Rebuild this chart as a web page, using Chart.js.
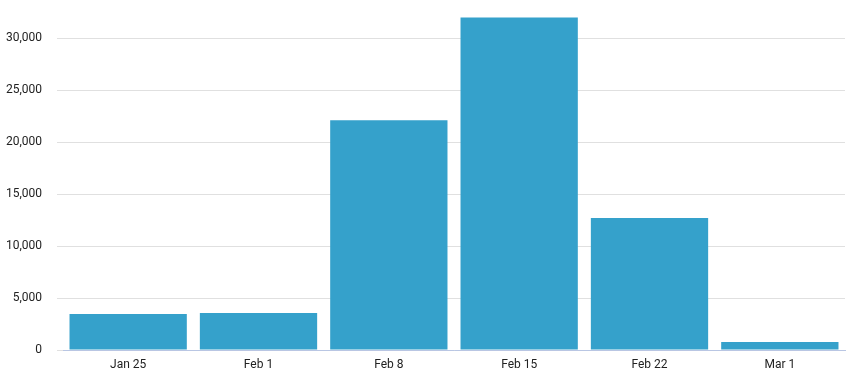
<!DOCTYPE html>
<html>
<head>
<meta charset="utf-8">
<script src="https://cdn.jsdelivr.net/npm/chart.js@4"></script>
<style>
  html, body { margin: 0; padding: 0; background: #fff; }
  .wrap { width: 851px; height: 377px; }
</style>
</head>
<body>
<div class="wrap"><canvas id="chart"></canvas></div>
<script>
var labels = ["Jan 25", "Feb 1", "Feb 8", "Feb 15", "Feb 22", "Mar 1"];
var values = [3460, 3560, 22100, 32000, 12700, 770];
var yTicks = [0, 5000, 10000, 15000, 20000, 25000, 30000];

var ctx = document.getElementById("chart").getContext("2d");

var data = {
  labels: labels,
  datasets: [
    {
      backgroundColor: "#35a1cb",
      borderWidth: 0,
      data: values,
      categoryPercentage: 0.9,
      barPercentage: 1,
    },
  ],
};

var options = {
  responsive: true,
  maintainAspectRatio: false,
  animation: false,
  layout: { padding: { top: 7, right: 6, bottom: 0, left: 0 } },
  plugins: { legend: { display: false }, tooltip: { enabled: false } },
  scales: {
    x: {
      grid: { display: false, drawTicks: false },
      border: { display: true, color: "#b9c6e3", width: 1 },
      ticks: { color: "#222", font: { family: "Roboto", size: 12 }, padding: 8 },
      afterFit: function (axis) { axis.height = 27; },
    },
    y: {
      bounds: "data",
      min: 0,
      max: 33000,
      afterBuildTicks: function (axis) {
        axis.ticks = yTicks.map(function (v) { return { value: v }; });
      },
      afterFit: function (axis) {
        axis.width = 63;
        // label padding was pushing the plot area down
        axis.paddingTop = 0;
        axis.paddingBottom = 0;
      },
      grid: { color: "#e0e0e0", drawTicks: true, tickLength: 6, tickColor: "#e0e0e0" },
      border: { display: false },
      ticks: {
        color: "#222",
        font: { family: "Roboto", size: 12 },
        padding: 15,
        callback: function (v) { return v.toLocaleString("en-US"); },
      },
    },
  },
};

var myChart = new Chart(ctx, {
  type: "bar",
  data: data,
  options: options,
});
</script>
</body>
</html>
